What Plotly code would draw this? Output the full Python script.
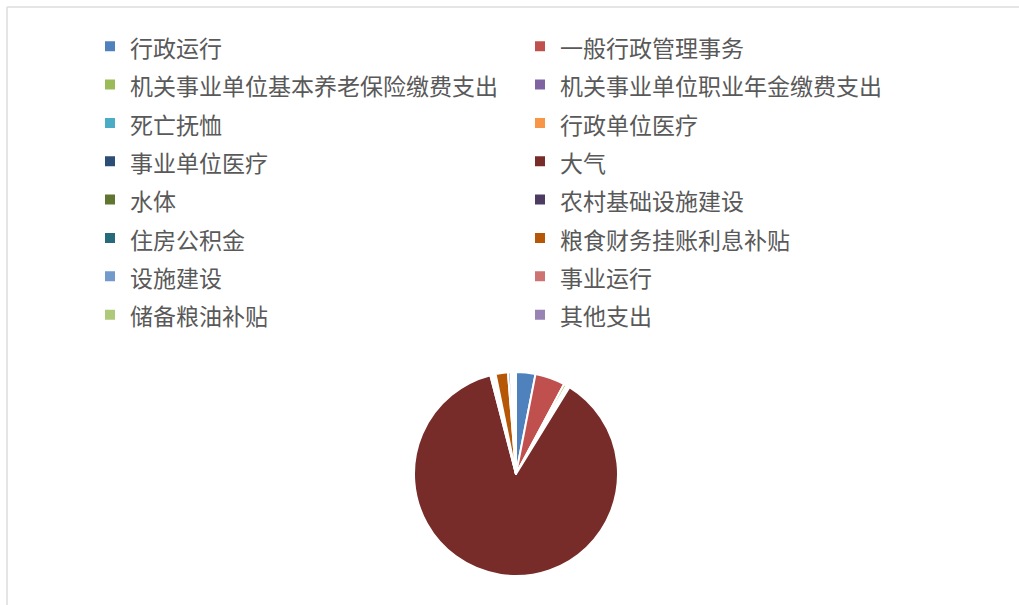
import plotly.graph_objects as go

labels = ["行政运行", "一般行政管理事务", "机关事业单位基本养老保险缴费支出", "机关事业单位职业年金缴费支出",
          "死亡抚恤", "行政单位医疗", "事业单位医疗", "大气", "水体", "农村基础设施建设",
          "住房公积金", "粮食财务挂账利息补贴", "设施建设", "事业运行", "储备粮油补贴", "其他支出"]
values = [11.0, 17.0, 1.5, 0.5, 0.3, 0.8, 0.3, 312.0, 1.0, 1.0, 1.0, 7.0, 1.5, 1.0, 1.0, 1.0]
colors = ["#4F81BD", "#C0504D", "#9BBB59", "#8064A2", "#4BACC6", "#F79646", "#2C4D75", "#772C2A",
          "#5F7530", "#4D3B62", "#276A7C", "#B65708", "#729ACA", "#CD7371", "#AFC97A", "#9983B5"]

W, H = 1019, 605
cx, cy, r = 516, 474, 102

# legend text drawn at 23px while row height follows the larger legend font size
shown = [f"<span style='font-size:23px'>{t}</span>" for t in labels]

fig = go.Figure(go.Pie(
    labels=shown, values=values, sort=False, direction="clockwise", rotation=0,
    marker=dict(colors=colors, line=dict(color="white", width=2)),
    textinfo="none", hoverinfo="label+value",
    domain=dict(x=[(cx - r) / W, (cx + r) / W], y=[(H - cy - r) / H, (H - cy + r) / H]),
))

fig.update_layout(
    width=W, height=H,
    margin=dict(l=0, r=0, t=0, b=0, autoexpand=False),
    paper_bgcolor="white", plot_bgcolor="white",
    font=dict(family="Noto Sans CJK SC", color="#595959"),
    legend=dict(
        orientation="h", xref="container", yref="container",
        x=90 / W, y=1 - 22 / H, xanchor="left", yanchor="top",
        entrywidth=385, entrywidthmode="pixels", maxheight=600,
        font=dict(size=27.2, family="Noto Sans CJK SC", color="#595959"),
        bgcolor="rgba(0,0,0,0)",
    ),
    shapes=[
        dict(type="line", xref="paper", yref="paper", x0=7 / W, x1=1, y0=1 - 7 / H, y1=1 - 7 / H,
             line=dict(color="#dcdcdc", width=1.5)),
        dict(type="line", xref="paper", yref="paper", x0=7 / W, x1=7 / W, y0=0, y1=1 - 7 / H,
             line=dict(color="#dcdcdc", width=1.5)),
    ],
)

fig.write_html("out.html", config={"displayModeBar": False},
               post_script="document.body.style.margin='0';")
